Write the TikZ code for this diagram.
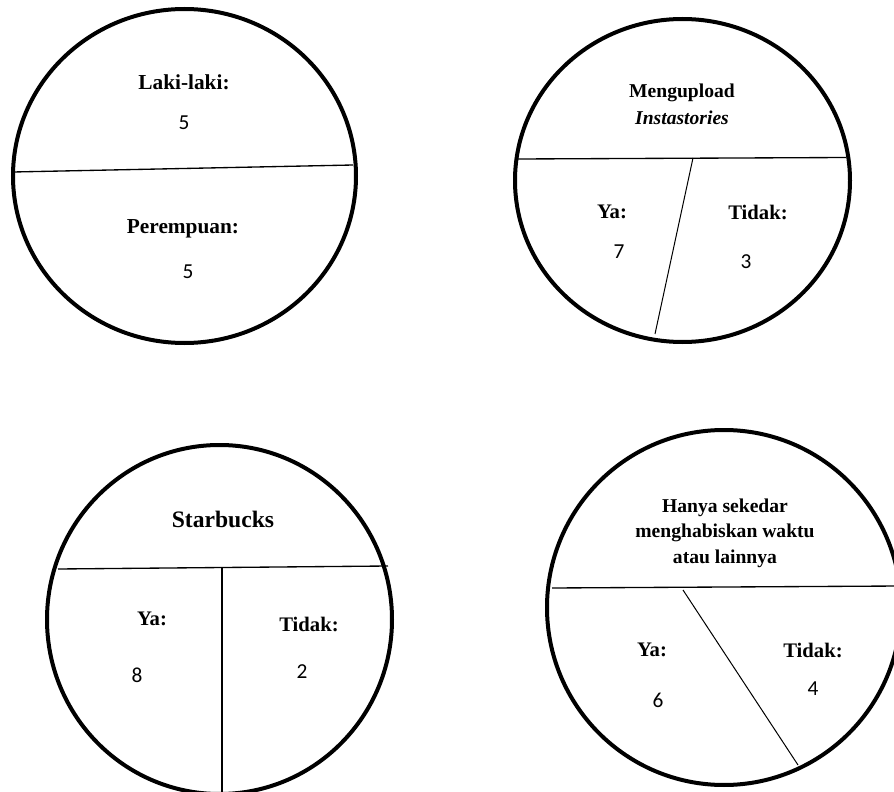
\documentclass[tikz,border=0pt]{standalone}
\usepackage{fontspec}
\setmainfont{Liberation Serif}
\newfontfamily\numfont{Carlito}

\tikzset{every picture/.style={line width=0.75pt}}
\tikzset{
  rim/.style={line width=3pt},
  split/.style={line width=1pt},
  head/.style={font=\fontsize{14.7}{20}\selectfont\bfseries, align=center},
  lab/.style={font=\fontsize{15.5}{18}\selectfont\bfseries},
  num/.style={font=\fontsize{16}{18}\selectfont\numfont}
}

\begin{document}
\begin{tikzpicture}[x=0.75pt,y=0.75pt,yscale=-1,xscale=1]
\useasboundingbox (0,0) rectangle (894,792);
\clip (0,0) rectangle (894,792);

%Shape: Circle [id:gender]
\draw [rim] (184.5,176) ellipse [x radius=171.5, y radius=167];
%Straight Lines [id:gender split]
\coordinate (g1) at (13,172);
\coordinate (g2) at (353,165);
\draw [split] (g1) -- (g2);

%Shape: Circle [id:story]
\draw [rim] (682.5,180.5) ellipse [x radius=167.5, y radius=161.5];
%Straight Lines [id:story split]
\coordinate (s1) at (518,159);
\coordinate (s2) at (846,157.5);
\coordinate (s3) at (693,158);
\coordinate (s4) at (655,334);
\draw [split] (s1) -- (s2);
\draw (s3) -- (s4);

%Shape: Circle [id:starbucks]
\draw [rim] (219.5,619.5) ellipse [x radius=172.5, y radius=174.5];
%Straight Lines [id:starbucks split]
\coordinate (b1) at (58,569);
\coordinate (b2) at (388,566);
\coordinate (b3) at (222,567.5);
\coordinate (b4) at (222,800);
\draw [split] (b1) -- (b2);
\draw [split] (b3) -- (b4);

%Shape: Circle [id:waktu]
\draw [rim] (724,607.5) ellipse [x radius=177, y radius=177.5];
%Straight Lines [id:waktu split]
\coordinate (w1) at (552,588);
\coordinate (w2) at (900,586);
\coordinate (w3) at (683,590);
\coordinate (w4) at (798,765);
\draw [split] (w1) -- (w2);
\draw (w3) -- (w4);

% Text Node
\draw (184,82) node (lk) [lab, font=\fontsize{16}{18}\selectfont\bfseries] {Laki-laki:};
\draw (184,123) node (lkn) [num] {5};
\draw (183,229) node (pr) [lab, font=\fontsize{16}{18}\selectfont\bfseries] {Perempuan:};
\draw (188,272) node (prn) [num] {5};

% Text Node
\draw (682,104) node (up) [head] {Mengupload\\\itshape Instastories};
\draw (612,212) node (upya) [lab] {Ya:};
\draw (619,252) node (upyan) [num] {7};
\draw (758,212) node (upno) [lab] {Tidak:};
\draw (746,262) node (upnon) [num] {3};

% Text Node
\draw (223,519) node (sb) [font=\fontsize{17.7}{20}\selectfont\bfseries] {Starbucks};
\draw (152,619) node (sbya) [lab] {Ya:};
\draw (137,675) node (sbyan) [num] {8};
\draw (309,624) node (sbno) [lab] {Tidak:};
\draw (302,672) node (sbnon) [num] {2};

% Text Node
\draw (725,533) node (hs) [head, font=\fontsize{14.7}{19}\selectfont\bfseries] {Hanya sekedar\\menghabiskan waktu\\atau lainnya};
\draw (652,650) node (hsya) [lab] {Ya:};
\draw (658,700) node (hsyan) [num] {6};
\draw (813,650) node (hsno) [lab] {Tidak:};
\draw (813,689) node (hsnon) [num] {4};

\end{tikzpicture}
\end{document}
